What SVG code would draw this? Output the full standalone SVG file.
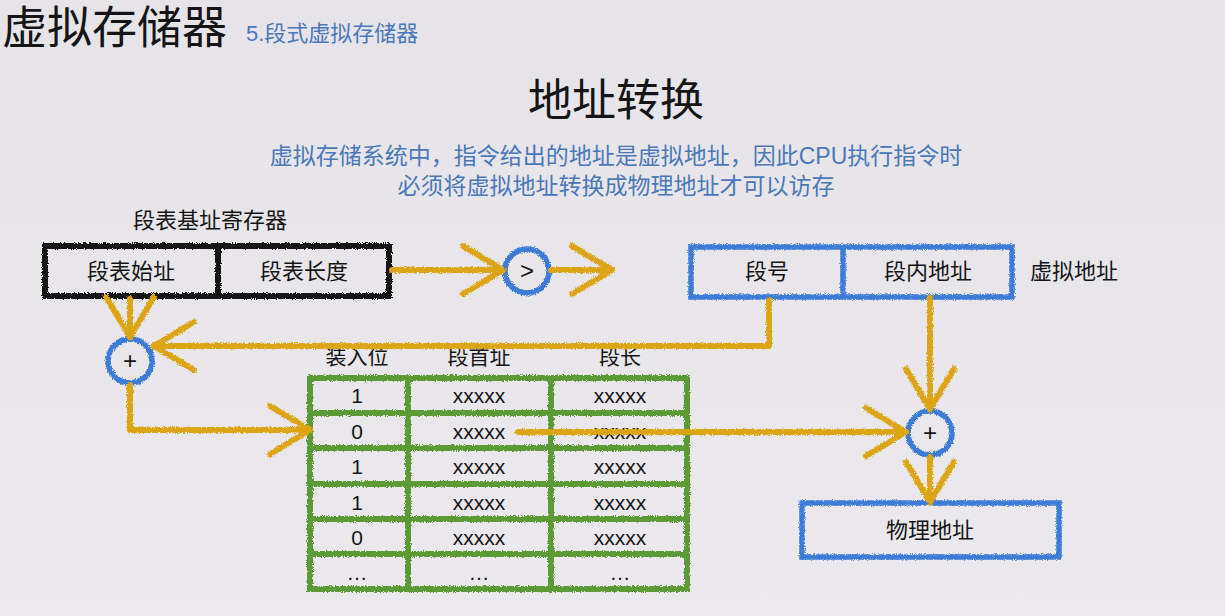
<svg xmlns="http://www.w3.org/2000/svg" width="1225" height="616" viewBox="0 0 1225 616">
  <defs>
    <style>
      text { font-family: "Liberation Sans", "Noto Sans CJK SC", sans-serif; fill: #151515; }
      .blue-t { fill: #4a78b8; }
      .lbl { font-size: 22px; text-anchor: middle; }
      .cell { font-size: 21px; text-anchor: middle; }
      .op { font-size: 24px; text-anchor: middle; }
      .ink-black { fill: none; stroke: #141414; stroke-width: 6; }
      .ink-blue { fill: none; stroke: #3e7bd6; stroke-width: 5.5; }
      .ink-green { fill: none; stroke: #5b9a35; stroke-width: 6; }
      .wire { fill: none; stroke: #dca512; stroke-width: 6; stroke-linecap: round; stroke-linejoin: round; marker-end: url(#chevron); }
      .chalk { filter: url(#rough); }
    </style>
    <!-- crayon-like edge roughness -->
    <filter id="rough" filterUnits="userSpaceOnUse" x="0" y="0" width="1225" height="616">
      <feTurbulence type="fractalNoise" baseFrequency="0.9" numOctaves="2" seed="4" result="n"/>
      <feDisplacementMap in="SourceGraphic" in2="n" scale="4" xChannelSelector="R" yChannelSelector="G"/>
    </filter>
    <!-- open chevron arrowhead -->
    <marker id="chevron" markerUnits="userSpaceOnUse" viewBox="-50 -30 60 60" markerWidth="60" markerHeight="60" refX="0" refY="0" orient="auto" overflow="visible">
      <path d="M-40,-24 L0,0 L-40,24" fill="none" stroke="#dca512" stroke-width="6" stroke-linecap="round" stroke-linejoin="round"/>
    </marker>
    <linearGradient id="bg" x1="0" y1="0" x2="0" y2="1">
      <stop offset="0" stop-color="#e6e4e9"/>
      <stop offset="1" stop-color="#ebe9ee"/>
    </linearGradient>
  </defs>

  <rect width="1225" height="616" fill="url(#bg)"/>

  <!-- headings -->
  <text x="2" y="44" font-size="45">虚拟存储器</text>
  <text x="246" y="41" font-size="22" class="blue-t">5.段式虚拟存储器</text>
  <text x="616" y="116" font-size="44" text-anchor="middle">地址转换</text>
  <text x="616" y="164" font-size="23" text-anchor="middle" class="blue-t">虚拟存储系统中，指令给出的地址是虚拟地址，因此CPU执行指令时</text>
  <text x="616" y="194" font-size="23" text-anchor="middle" class="blue-t">必须将虚拟地址转换成物理地址才可以访存</text>

  <!-- segment table base register -->
  <g id="seg-table-register">
    <text x="210" y="228" font-size="22" text-anchor="middle">段表基址寄存器</text>
    <g class="chalk">
      <rect x="45" y="246" width="344" height="50" class="ink-black"/>
      <line x1="218" y1="246" x2="218" y2="296" class="ink-black"/>
    </g>
    <text x="131" y="279" class="lbl">段表始址</text>
    <text x="304" y="279" class="lbl">段表长度</text>
  </g>

  <!-- length comparator -->
  <g id="compare">
    <circle cx="527" cy="271" r="22" class="ink-blue chalk"/>
    <text x="527" y="279" class="op">&gt;</text>
  </g>

  <!-- virtual address -->
  <g id="virtual-address">
    <g class="chalk">
      <rect x="691" y="247" width="321" height="50" class="ink-blue"/>
      <line x1="843" y1="247" x2="843" y2="297" class="ink-blue"/>
    </g>
    <text x="767" y="279" class="lbl">段号</text>
    <text x="928" y="279" class="lbl">段内地址</text>
    <text x="1030" y="279" font-size="22">虚拟地址</text>
  </g>

  <!-- adder: table base + segment number -->
  <g id="adder-index">
    <circle cx="130" cy="361" r="22" class="ink-blue chalk"/>
    <text x="130" y="369" class="op">+</text>
  </g>

  <!-- segment table -->
  <g id="segment-table">
    <text x="357" y="364" class="cell">装入位</text>
    <text x="479" y="364" class="cell">段首址</text>
    <text x="620" y="364" class="cell">段长</text>
    <g class="chalk">
      <rect x="310" y="378" width="377" height="211" class="ink-green"/>
      <line x1="408" y1="378" x2="408" y2="589" class="ink-green"/>
      <line x1="551" y1="378" x2="551" y2="589" class="ink-green"/>
      <line x1="310" y1="413" x2="687" y2="413" class="ink-green"/>
      <line x1="310" y1="448" x2="687" y2="448" class="ink-green"/>
      <line x1="310" y1="484" x2="687" y2="484" class="ink-green"/>
      <line x1="310" y1="519" x2="687" y2="519" class="ink-green"/>
      <line x1="310" y1="554" x2="687" y2="554" class="ink-green"/>
    </g>
    <text x="357" y="403" class="cell">1</text>
    <text x="479" y="403" class="cell">xxxxx</text>
    <text x="620" y="403" class="cell">xxxxx</text>
    <text x="357" y="439" class="cell">0</text>
    <text x="479" y="439" class="cell">xxxxx</text>
    <text x="620" y="439" class="cell">xxxxx</text>
    <text x="357" y="474" class="cell">1</text>
    <text x="479" y="474" class="cell">xxxxx</text>
    <text x="620" y="474" class="cell">xxxxx</text>
    <text x="357" y="510" class="cell">1</text>
    <text x="479" y="510" class="cell">xxxxx</text>
    <text x="620" y="510" class="cell">xxxxx</text>
    <text x="357" y="545" class="cell">0</text>
    <text x="479" y="545" class="cell">xxxxx</text>
    <text x="620" y="545" class="cell">xxxxx</text>
    <text x="357" y="580" class="cell">…</text>
    <text x="479" y="580" class="cell">…</text>
    <text x="620" y="580" class="cell">…</text>
  </g>

  <!-- adder: segment base + offset -->
  <g id="adder-physical">
    <circle cx="930" cy="433" r="22" class="ink-blue chalk"/>
    <text x="930" y="441" class="op">+</text>
  </g>

  <!-- physical address -->
  <g id="physical-address">
    <rect x="802" y="503" width="257" height="54" class="ink-blue chalk"/>
    <text x="930" y="538" class="lbl">物理地址</text>
  </g>

  <!-- connectors -->
  <g id="connectors" class="chalk">
    <path class="wire" d="M392,270 H503"/>
    <path class="wire" d="M551,270 H612"/>
    <path class="wire" d="M769,300 V346 H154"/>
    <path class="wire" d="M130,299 V337"/>
    <path class="wire" d="M130,385 V430 H310"/>
    <path class="wire" d="M518,432 H906"/>
    <path class="wire" d="M930,298 V409"/>
    <path class="wire" d="M930,457 V502"/>
  </g>
</svg>
